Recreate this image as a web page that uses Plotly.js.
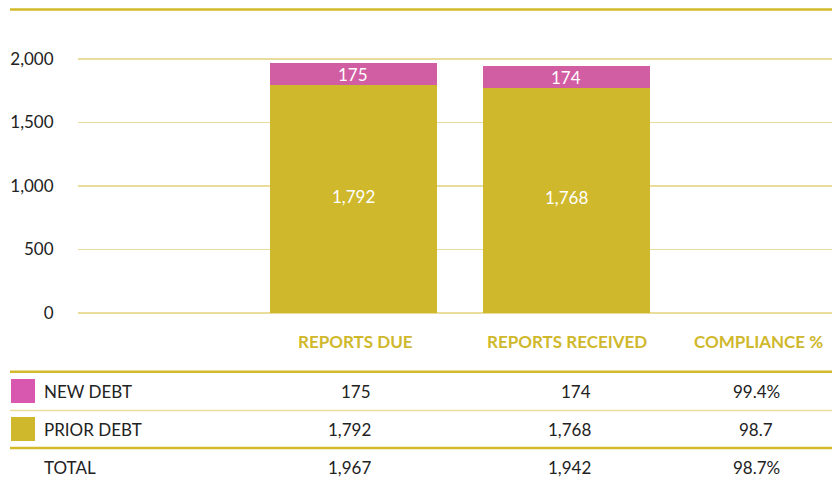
<!DOCTYPE html>
<html><head><meta charset="utf-8">
<script src="https://cdn.plot.ly/plotly-3.0.1.min.js"></script>
<style>html,body{margin:0;padding:0;background:#fff}#chart{width:832px;height:481px}</style>
</head><body><div id="chart"></div>
<script>
// ---- data ----
const categories = ["REPORTS DUE", "REPORTS RECEIVED"];
const headerLabels = ["REPORTS DUE", "REPORTS RECEIVED", "COMPLIANCE %"];
const newDebt = [175, 174];
const priorDebt = [1792, 1768];
const totals = [1967, 1942];
const compliance = ["99.4%", "98.7", "98.7%"];
const rowLabels = ["NEW DEBT", "PRIOR DEBT", "TOTAL"];
const yTicks = [0, 500, 1000, 1500, 2000];

// ---- style ----
const GOLD = "#CFB82B", PINK = "#D15DA2", SW_PINK = "#D958AF", GRID = "#EADD9C", LINE = "#D2BA2A";
const FONT = "Lato, 'Noto Sans', sans-serif";
const W = 832, H = 481, L = 78, R = 0, T = 34, B = 168;
const plotH = H - T - B, plotW = W - L - R;
const xs = [1, 2];
const ypx = py => (H - B - py) / plotH;
const xpx = px => (px - L) / plotW;
const fmt = v => v.toLocaleString("en-US");

const traces = [
  {type: "bar", x: xs, y: priorDebt, name: "PRIOR DEBT", marker: {color: GOLD}, width: 0.784, hoverinfo: "none"},
  {type: "bar", x: xs, y: newDebt, name: "NEW DEBT", marker: {color: PINK}, width: 0.784, hoverinfo: "none"}
];

const ann = [];
xs.forEach((x, i) => {
  ann.push({x: x, y: priorDebt[i] / 2, xref: "x", yref: "y", text: fmt(priorDebt[i]), showarrow: false,
    font: {family: FONT, size: 17, color: "#fff"}, yshift: 3});
  ann.push({x: x, y: priorDebt[i] + newDebt[i] / 2, xref: "x", yref: "y", text: fmt(newDebt[i]), showarrow: false,
    font: {family: FONT, size: 17, color: "#fff"}});
});
// column headers
const headerX = [355, 566.5, 758.5];
headerLabels.forEach((t, i) => ann.push({x: xpx(headerX[i]), y: ypx(341), xref: "paper", yref: "paper", text: t,
  showarrow: false, font: {family: FONT, size: 17, color: GOLD, weight: "bold"}, xanchor: "center", yanchor: "middle"}));
// table rows
const rowY = [391, 429.5, 467];
const rowVals = [
  [fmt(newDebt[0]), fmt(newDebt[1]), compliance[0]],
  [fmt(priorDebt[0]), fmt(priorDebt[1]), compliance[1]],
  [fmt(totals[0]), fmt(totals[1]), compliance[2]]
];
const tf = {family: FONT, size: 17, color: "#222"};
rowLabels.forEach((lab, r) => {
  ann.push({x: xpx(42), y: ypx(rowY[r]), xref: "paper", yref: "paper", text: lab, showarrow: false, font: tf, xanchor: "left", yanchor: "middle"});
  ann.push({x: xpx(373), y: ypx(rowY[r]), xref: "paper", yref: "paper", text: rowVals[r][0], showarrow: false, font: tf, xanchor: "right", yanchor: "middle"});
  ann.push({x: xpx(593), y: ypx(rowY[r]), xref: "paper", yref: "paper", text: rowVals[r][1], showarrow: false, font: tf, xanchor: "right", yanchor: "middle"});
  ann.push({x: xpx(756), y: ypx(rowY[r]), xref: "paper", yref: "paper", text: rowVals[r][2], showarrow: false, font: tf, xanchor: "center", yanchor: "middle"});
});

const hline = (py, w, c) => ({type: "line", xref: "paper", yref: "paper", x0: xpx(10), x1: xpx(832), y0: ypx(py), y1: ypx(py), line: {color: c, width: w}});
const shapes = [
  hline(9.5, 2.5, LINE),
  hline(371.8, 2.5, LINE),
  hline(410.5, 1.3, GRID),
  hline(448, 2.5, LINE),
  {type: "rect", xref: "paper", yref: "paper", x0: xpx(11), x1: xpx(35), y0: ypx(403), y1: ypx(379), fillcolor: SW_PINK, line: {width: 0}},
  {type: "rect", xref: "paper", yref: "paper", x0: xpx(11), x1: xpx(35), y0: ypx(441), y1: ypx(417), fillcolor: GOLD, line: {width: 0}}
];

const layout = {
  width: W, height: H, margin: {l: L, r: R, t: T, b: B},
  paper_bgcolor: "#fff", plot_bgcolor: "#fff",
  barmode: "stack", showlegend: false,
  xaxis: {range: [-0.293, 3.247], showgrid: false, zeroline: false, showticklabels: false, ticks: "", fixedrange: true},
  yaxis: {range: [0, plotH / 0.127], tickvals: yTicks, ticktext: yTicks.map(fmt),
    showgrid: true, gridcolor: GRID, gridwidth: 1.2, zeroline: true, zerolinecolor: GRID, zerolinewidth: 1.2,
    ticks: "outside", ticklen: 20, tickcolor: "rgba(0,0,0,0)", tickfont: {family: FONT, size: 17, color: "#222"}, fixedrange: true},
  annotations: ann, shapes: shapes,
  font: {family: FONT}
};
Plotly.newPlot("chart", traces, layout, {displayModeBar: false, staticPlot: true});
</script></body></html>
